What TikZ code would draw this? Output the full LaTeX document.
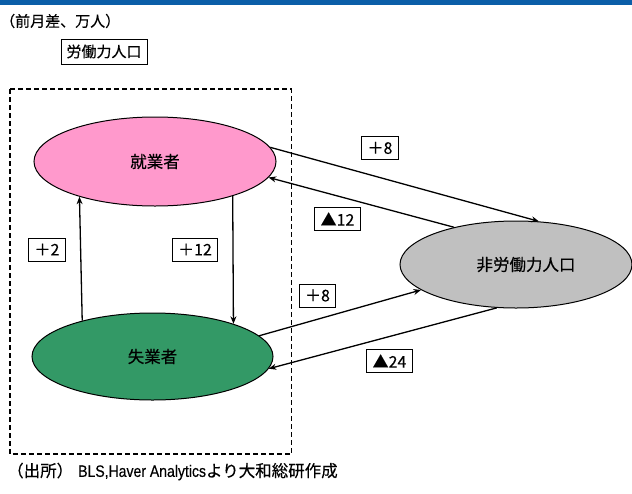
\documentclass[tikz,border=0pt]{standalone}
\usepackage{fontspec}
\usepackage{graphicx}
\setmainfont[FakeBold=0.35]{Noto Sans CJK JP}
\newfontfamily\latn[FakeBold=0.35]{Liberation Sans}
\usetikzlibrary{shapes.geometric,arrows.meta}
\definecolor{barblue}{HTML}{0B5EA8}
\definecolor{emppink}{HTML}{FF99CC}
\definecolor{unegreen}{HTML}{339966}
\definecolor{nlfgray}{HTML}{C0C0C0}
\tikzset{
  oval/.style={ellipse, draw=black, line width=1pt, inner sep=0pt,
    font=\fontsize{16.5}{16.5}\selectfont},
  numbox/.style={draw=black, line width=0.9pt, fill=white, inner xsep=6pt,
    inner ysep=0pt, minimum height=23pt, font=\fontsize{16}{16}\selectfont},
  flow/.style={line width=1.3pt, -{Stealth[length=7.5pt,width=6pt]}},
  plain/.style={inner sep=0pt, anchor=west, font=\fontsize{15}{15}\selectfont},
}
\begin{document}
\begin{tikzpicture}[x=1pt,y=-1pt]
\useasboundingbox (0,0) rectangle (632,493);
\fill[barblue] (0,0) rectangle (632,4.5);
\node[plain] (unit) at (0,21) {（前月差、万人）};
\node[draw=black, line width=0.9pt, inner xsep=5.5pt, inner ysep=0pt,
      minimum height=25pt, font=\fontsize{15}{15}\selectfont] (lf) at (104,51.5) {労働力人口};
\draw[line width=1.2pt, dash pattern=on 5pt off 3pt] (10,89) rectangle (291.5,454);
\node[oval, fill=emppink, minimum width=242pt, minimum height=89pt] (emp) at (155,161.5) {就業者};
\node[oval, fill=unegreen, minimum width=241pt, minimum height=87pt] (une) at (152.5,356.5) {失業者};
\node[oval, fill=nlfgray, minimum width=232pt, minimum height=87pt] (nlf) at (516,264.5) {\hspace*{20pt}非労働力人口};
% flows
\draw[flow] (une.153.9) -- (emp.205.4);
\draw[flow] (emp.336.0) -- (une.22.4);
\draw[flow] (emp.7.2) -- (nlf.62.7);
\draw[flow] (nlf.149.9) -- (emp.352.5);
\draw[flow] (une.11.5) -- (nlf.195.6);
\draw[flow] (nlf.246.1) -- (une.354.3);
% labels
\node[numbox] (l1) at (380,148) {＋8};
\node[numbox] (l2) at (337.5,219) {▲12};
\node[numbox] (l3) at (47,249.5) {＋2};
\node[numbox] (l4) at (195,249.5) {＋12};
\node[numbox] (l5) at (317.5,295.5) {＋8};
\node[numbox] (l6) at (389.5,361) {▲24};
\node[plain, font=\fontsize{16.5}{16.5}\selectfont] (src) at (7,471.5) {（出所）\hspace{5pt}\scalebox{0.85}[1]{\latn BLS,Haver Analytics}より大和総研作成};
\end{tikzpicture}
\end{document}
